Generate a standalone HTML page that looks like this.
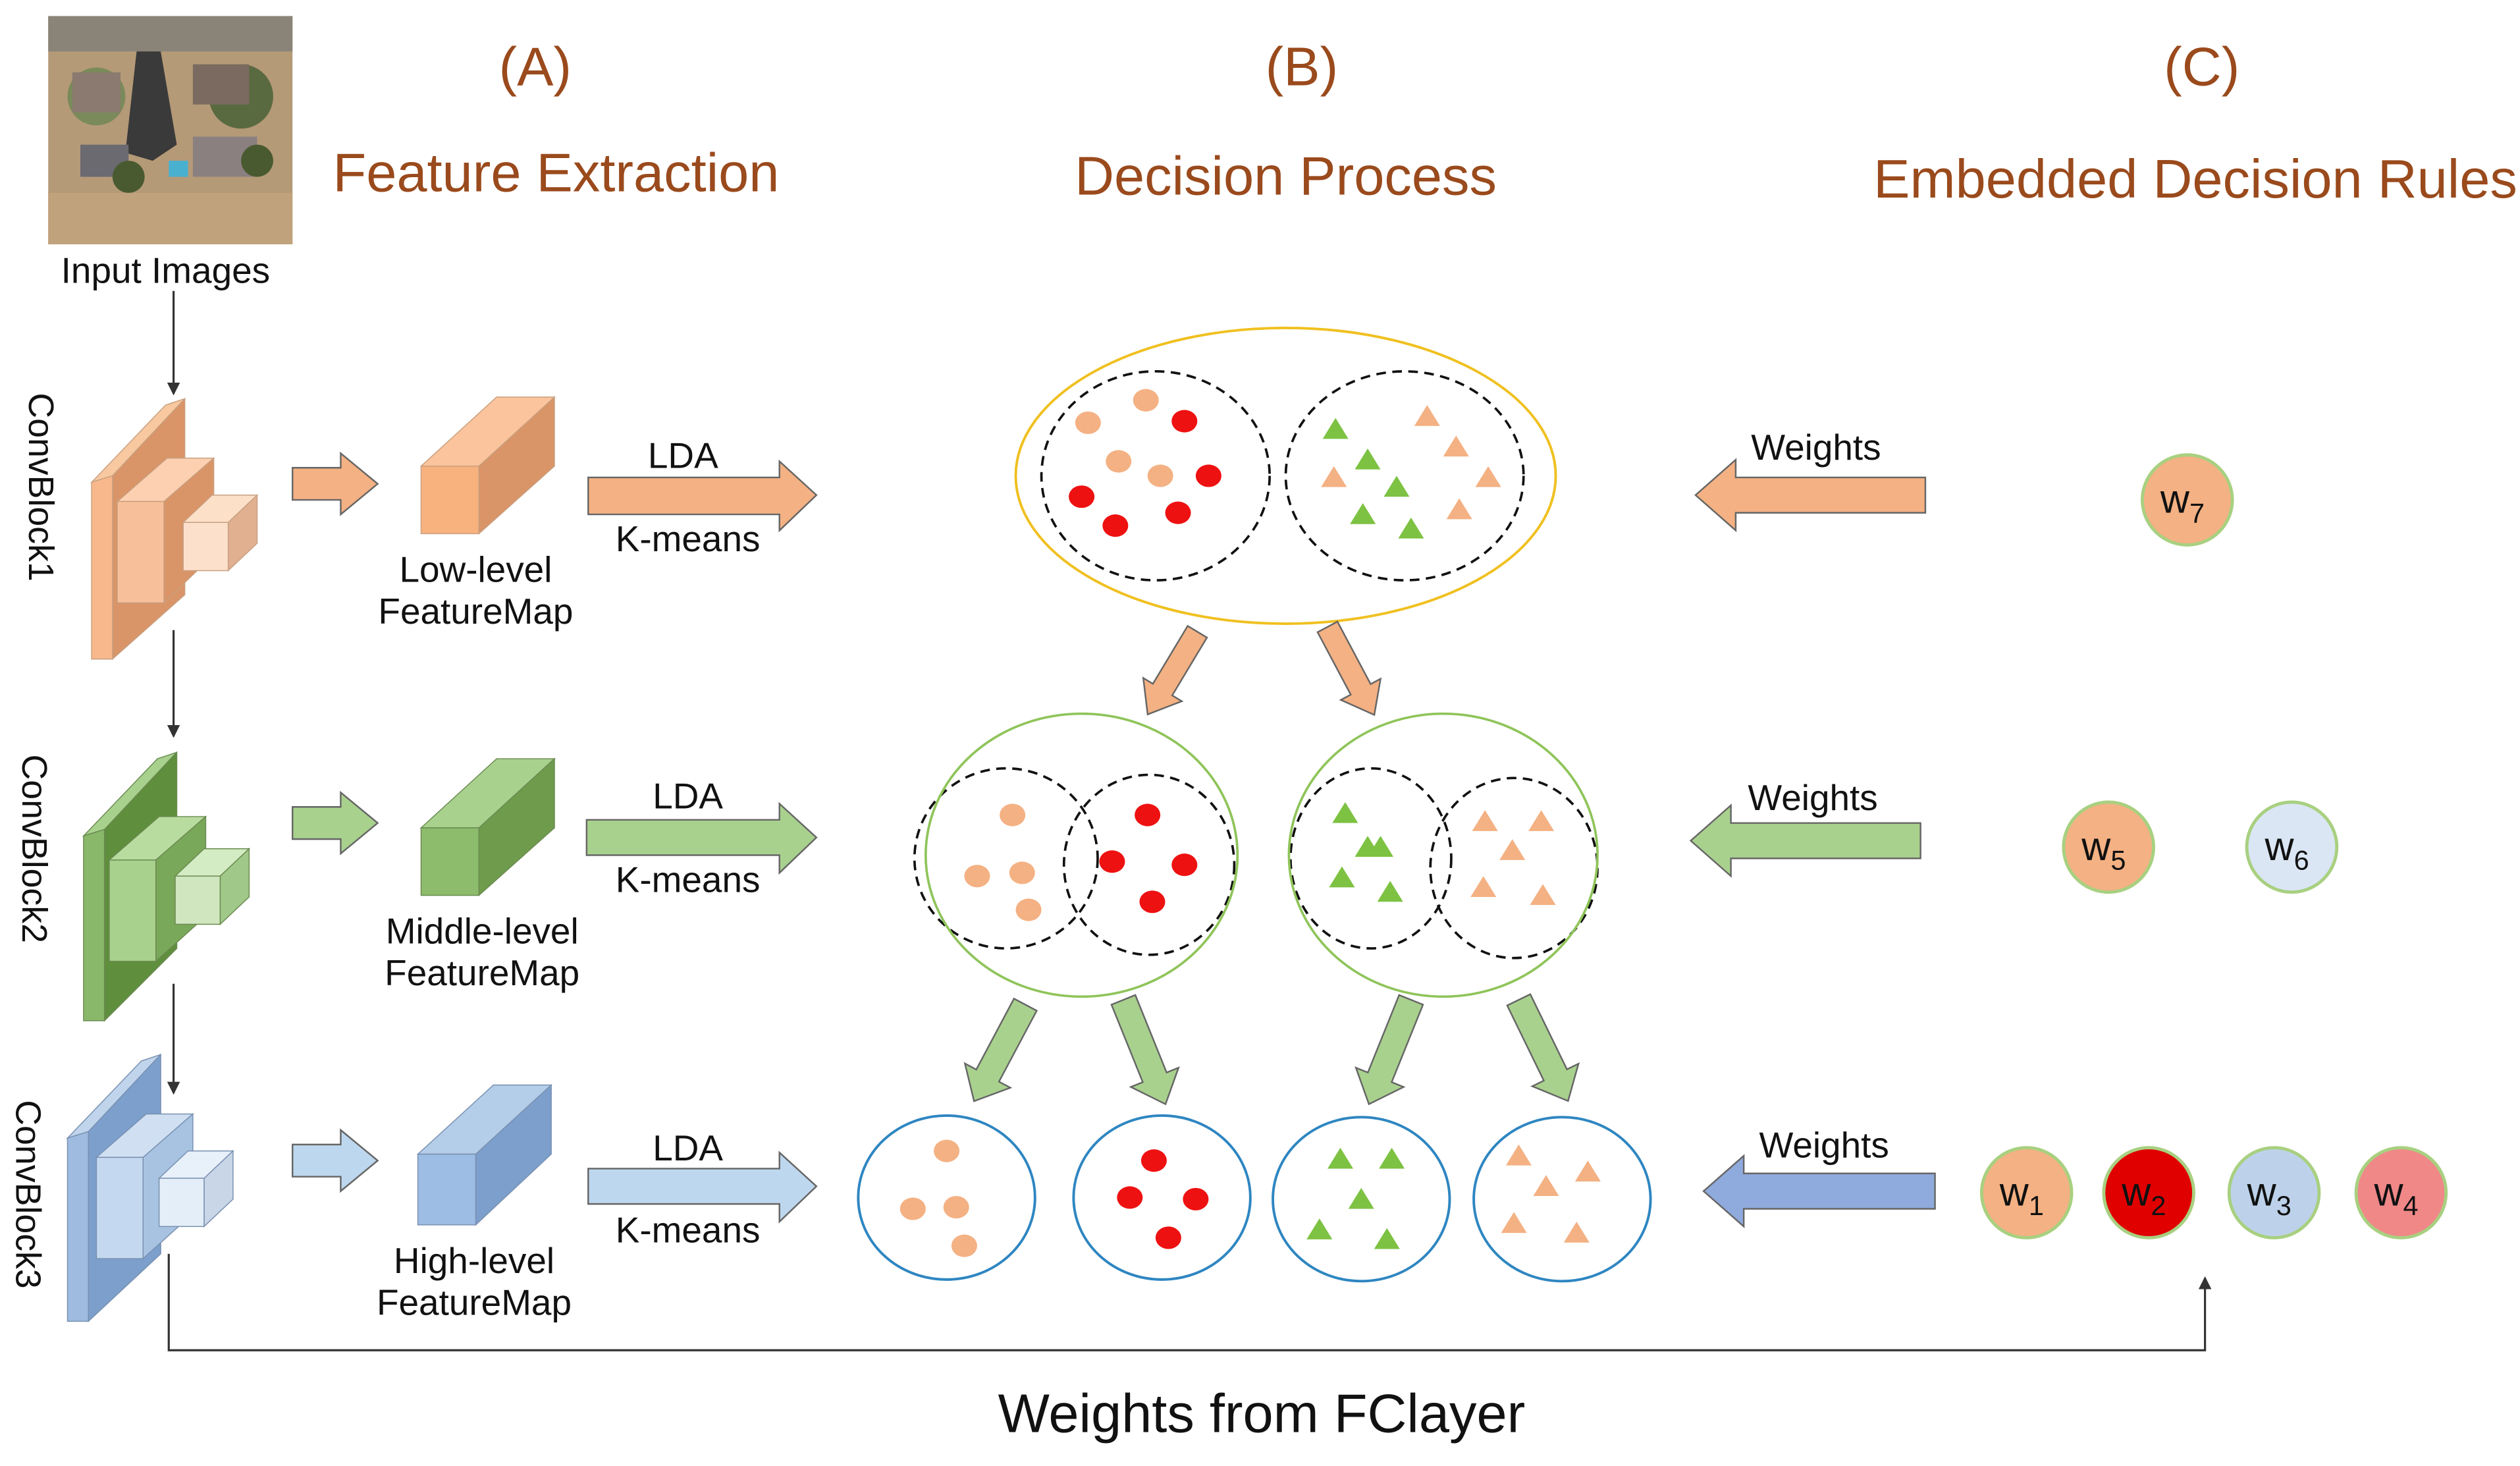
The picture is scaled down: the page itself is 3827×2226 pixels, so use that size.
<!DOCTYPE html>
<html><head><meta charset="utf-8"><style>
html,body{margin:0;padding:0;background:#fff;}
svg{display:block;}
text{font-family:"Liberation Sans",Arial,sans-serif;}
</style></head><body>
<svg width="3827" height="2226" viewBox="0 0 1568 912" preserveAspectRatio="none" xmlns="http://www.w3.org/2000/svg">
<defs>
<marker id="ah" markerWidth="8" markerHeight="8" refX="7" refY="4" orient="auto" markerUnits="userSpaceOnUse"><path d="M0,0 L8,4 L0,8 z" fill="#333"/></marker>
</defs>
<!-- input image -->
<rect x="30" y="10" width="152" height="142" fill="#b59a78"/>
<rect x="30" y="10" width="152" height="22" fill="#8a8478"/>
<path d="M85,32 L100,32 L110,90 L95,100 L78,95 Z" fill="#3a3a3a"/>
<circle cx="60" cy="60" r="18" fill="#7a8a5a"/><circle cx="150" cy="60" r="20" fill="#5a6a40"/>
<rect x="45" y="45" width="30" height="25" fill="#8a7a70"/><rect x="120" y="40" width="35" height="25" fill="#7a6a60"/>
<rect x="50" y="90" width="30" height="20" fill="#6a6a70"/><rect x="120" y="85" width="40" height="25" fill="#8a8080"/>
<rect x="105" y="100" width="12" height="10" fill="#4ab0d0"/>
<circle cx="80" cy="110" r="10" fill="#4a5a30"/><circle cx="160" cy="100" r="10" fill="#4a5a30"/>
<rect x="30" y="120" width="152" height="32" fill="#c0a27c"/>
<text x="103" y="176" font-size="22.5" text-anchor="middle" fill="#111">Input Images</text>
<!-- titles -->
<g fill="#9a4a1c" text-anchor="middle" font-size="34">
<text x="333" y="53">(A)</text><text x="346" y="119">Feature Extraction</text>
<text x="810" y="53">(B)</text><text x="800" y="121">Decision Process</text>
<text x="1370" y="53">(C)</text><text x="1366" y="123">Embedded Decision Rules</text>
</g>
<!-- vertical arrows -->
<g stroke="#333" stroke-width="1.3" fill="none">
<line x1="108" y1="181" x2="108" y2="245" marker-end="url(#ah)"/>
<line x1="108" y1="392" x2="108" y2="458" marker-end="url(#ah)"/>
<line x1="108" y1="612" x2="108" y2="680" marker-end="url(#ah)"/>
<polyline points="105,780 105,840 1372,840 1372,795" marker-end="url(#ah)"/>
</g>
<text x="785" y="891" font-size="34" text-anchor="middle" fill="#111">Weights from FClayer</text>
<!-- conv block labels -->
<g font-size="22" fill="#111" text-anchor="middle">
<text transform="translate(18,303) rotate(90)">ConvBlock1</text>
<text transform="translate(14,528) rotate(90)">ConvBlock2</text>
<text transform="translate(10,743) rotate(90)">ConvBlock3</text>
</g>
<!-- ConvBlock1 orange -->
<g stroke="#c8a080" stroke-width="0.6">
<polygon points="57,300 103,252 115,248 70,296" fill="#f8c8a0"/>
<polygon points="70,296 115,248 115,370 70,410" fill="#d99468"/>
<polygon points="57,300 70,296 70,410 57,410" fill="#f8b88b"/>
<polygon points="73,312 102,312 133,285 104,285" fill="#fcd0b0"/>
<polygon points="102,312 133,285 133,345 102,375" fill="#d99468"/>
<rect x="73" y="312" width="29" height="63" fill="#f8c09a"/>
<polygon points="114,325 142,325 160,308 132,308" fill="#fde0c8"/>
<polygon points="142,325 160,308 160,338 142,355" fill="#e0b090"/>
<rect x="114" y="325" width="28" height="30" fill="#fde0cc"/>
<polygon points="262,290 298,290 345,247 309,247" fill="#fbc49c"/>
<polygon points="298,290 345,247 345,290 298,332" fill="#d99468"/>
<rect x="262" y="290" width="36" height="42" fill="#f8b27e"/>
</g>
<!-- ConvBlock2 green -->
<g stroke="#6a8a50" stroke-width="0.6">
<polygon points="52,520 98,472 110,468 65,516" fill="#a9d18e"/>
<polygon points="65,516 110,468 110,590 65,635" fill="#5f8e3c"/>
<polygon points="52,520 65,516 65,635 52,635" fill="#8ab86a"/>
<polygon points="68,535 97,535 128,508 99,508" fill="#b8dca0"/>
<polygon points="97,535 128,508 128,570 97,598" fill="#7aa85a"/>
<rect x="68" y="535" width="29" height="63" fill="#a9d18e"/>
<polygon points="109,545 137,545 155,528 127,528" fill="#d4ecc4"/>
<polygon points="137,545 155,528 155,558 137,575" fill="#a0c888"/>
<rect x="109" y="545" width="28" height="30" fill="#cfe6be"/>
<polygon points="262,515 298,515 345,472 309,472" fill="#a9d18e"/>
<polygon points="298,515 345,472 345,515 298,557" fill="#6e9c4c"/>
<rect x="262" y="515" width="36" height="42" fill="#8cbc6c"/>
</g>
<!-- ConvBlock3 blue -->
<g stroke="#7890b0" stroke-width="0.6">
<polygon points="42,708 88,660 100,656 55,704" fill="#c0d4ec"/>
<polygon points="55,704 100,656 100,780 55,822" fill="#7c9fcc"/>
<polygon points="42,708 55,704 55,822 42,822" fill="#9fbce0"/>
<polygon points="60,720 89,720 120,693 91,693" fill="#d0e0f2"/>
<polygon points="89,720 120,693 120,755 89,783" fill="#a8c2e2"/>
<rect x="60" y="720" width="29" height="63" fill="#c4d8f0"/>
<polygon points="99,733 127,733 145,716 117,716" fill="#e8f0fa"/>
<polygon points="127,733 145,716 145,746 127,763" fill="#c8d6e8"/>
<rect x="99" y="733" width="28" height="30" fill="#e4eef8"/>
<polygon points="260,718 296,718 343,675 307,675" fill="#b4cde8"/>
<polygon points="296,718 343,675 343,718 296,762" fill="#7c9fcc"/>
<rect x="260" y="718" width="36" height="44" fill="#9dbde4"/>
</g>
<!-- right-pointing arrows -->
<g stroke="#666" stroke-width="1">
<polygon points="182,291 212,291 212,282 235,301 212,320 212,311 182,311" fill="#f4b183"/>
<polygon points="366,297 485,297 485,287 508,308 485,330 485,320 366,320" fill="#f4b183"/>
<polygon points="182,502 212,502 212,493 235,512 212,531 212,522 182,522" fill="#a9d18e"/>
<polygon points="365,510 485,510 485,500 508,521 485,543 485,532 365,532" fill="#a9d18e"/>
<polygon points="182,712 212,712 212,703 235,722 212,741 212,732 182,732" fill="#bdd7ee"/>
<polygon points="366,727 485,727 485,717 508,738 485,760 485,749 366,749" fill="#bdd7ee"/>
<polygon points="1198,297 1080,297 1080,286 1055,308 1080,330 1080,319 1198,319" fill="#f4b183"/>
<polygon points="1195,512 1077,512 1077,501 1052,523 1077,545 1077,534 1195,534" fill="#a9d18e"/>
<polygon points="1204,730 1085,730 1085,719 1060,741 1085,763 1085,752 1204,752" fill="#8faadc"/>
</g>
<g font-size="22.5" fill="#111" text-anchor="middle">
<text x="425" y="291">LDA</text><text x="428" y="343">K-means</text>
<text x="428" y="503">LDA</text><text x="428" y="555">K-means</text>
<text x="428" y="722">LDA</text><text x="428" y="773">K-means</text>
<text x="296" y="362">Low-level</text><text x="296" y="388">FeatureMap</text>
<text x="300" y="587">Middle-level</text><text x="300" y="613">FeatureMap</text>
<text x="295" y="792">High-level</text><text x="295" y="818">FeatureMap</text>
<text x="1130" y="286">Weights</text><text x="1128" y="504">Weights</text><text x="1135" y="720">Weights</text>
</g>
<!-- Decision tree -->
<ellipse cx="800" cy="296" rx="168" ry="92" fill="none" stroke="#f0c020" stroke-width="1.6"/>
<g fill="none" stroke="#111" stroke-width="1.5" stroke-dasharray="6,4">
<ellipse cx="719" cy="296" rx="71" ry="65"/><ellipse cx="874" cy="296" rx="74" ry="65"/>
<ellipse cx="626" cy="534" rx="57" ry="56"/><ellipse cx="715" cy="538" rx="53" ry="56"/>
<ellipse cx="853" cy="534" rx="50" ry="56"/><ellipse cx="942" cy="540" rx="52" ry="56"/>
</g>
<ellipse cx="673" cy="532" rx="97" ry="88" fill="none" stroke="#8fc45a" stroke-width="1.5"/>
<ellipse cx="898" cy="532" rx="96" ry="88" fill="none" stroke="#8fc45a" stroke-width="1.5"/>
<g fill="none" stroke="#2e86c1" stroke-width="1.6">
<ellipse cx="589" cy="745" rx="55" ry="51"/><ellipse cx="723" cy="745" rx="55" ry="51"/>
<ellipse cx="847" cy="746" rx="55" ry="51"/><ellipse cx="972" cy="746" rx="55" ry="51"/>
</g>
<g fill="#f4b183">
<ellipse cx="677" cy="263" rx="8" ry="7"/><ellipse cx="713" cy="249" rx="8" ry="7"/><ellipse cx="696" cy="287" rx="8" ry="7"/><ellipse cx="722" cy="296" rx="8" ry="7"/>
<ellipse cx="630" cy="507" rx="8" ry="7"/><ellipse cx="608" cy="545" rx="8" ry="7"/><ellipse cx="636" cy="543" rx="8" ry="7"/><ellipse cx="640" cy="566" rx="8" ry="7"/>
<ellipse cx="589" cy="716" rx="8" ry="7"/><ellipse cx="568" cy="752" rx="8" ry="7"/><ellipse cx="595" cy="751" rx="8" ry="7"/><ellipse cx="600" cy="775" rx="8" ry="7"/>
</g>
<g fill="#ee1111">
<ellipse cx="737" cy="262" rx="8" ry="7"/><ellipse cx="752" cy="296" rx="8" ry="7"/><ellipse cx="673" cy="309" rx="8" ry="7"/><ellipse cx="694" cy="327" rx="8" ry="7"/><ellipse cx="733" cy="319" rx="8" ry="7"/>
<ellipse cx="714" cy="507" rx="8" ry="7"/><ellipse cx="692" cy="536" rx="8" ry="7"/><ellipse cx="737" cy="538" rx="8" ry="7"/><ellipse cx="717" cy="561" rx="8" ry="7"/>
<ellipse cx="718" cy="722" rx="8" ry="7"/><ellipse cx="703" cy="745" rx="8" ry="7"/><ellipse cx="744" cy="746" rx="8" ry="7"/><ellipse cx="727" cy="770" rx="8" ry="7"/>
</g>
<g fill="#7dc242">
<path d="M831,260 l8,13 h-16z M851,279 l8,13 h-16z M869,296 l8,13 h-16z M848,313 l8,13 h-16z M878,322 l8,13 h-16z"/>
<path d="M837,499 l8,13 h-16z M851,520 l8,13 h-16z M859,520 l8,13 h-16z M835,539 l8,13 h-16z M865,548 l8,13 h-16z"/>
<path d="M834,714 l8,13 h-16z M866,714 l8,13 h-16z M847,739 l8,13 h-16z M821,758 l8,13 h-16z M863,764 l8,13 h-16z"/>
</g>
<g fill="#f4b183">
<path d="M888,252 l8,13 h-16z M906,271 l8,13 h-16z M830,290 l8,13 h-16z M926,290 l8,13 h-16z M908,310 l8,13 h-16z"/>
<path d="M924,504 l8,13 h-16z M959,504 l8,13 h-16z M941,522 l8,13 h-16z M923,545 l8,13 h-16z M960,550 l8,13 h-16z"/>
<path d="M945,712 l8,13 h-16z M988,722 l8,13 h-16z M962,731 l8,13 h-16z M942,754 l8,13 h-16z M981,760 l8,13 h-16z"/>
</g>
<g stroke="#666" stroke-width="1">
<g transform="translate(745,393) rotate(31)"><polygon points="-7,0 7,0 7,42 14,42 0,60 -14,42 -7,42" fill="#f4b183"/></g>
<g transform="translate(826,390) rotate(-28)"><polygon points="-7,0 7,0 7,44 14,44 0,62 -14,44 -7,44" fill="#f4b183"/></g>
<g transform="translate(638,625) rotate(28)"><polygon points="-8,0 8,0 8,50 16,50 0,68 -16,50 -8,50" fill="#a9d18e"/></g>
<g transform="translate(699,622) rotate(-22)"><polygon points="-8,0 8,0 8,52 16,52 0,70 -16,52 -8,52" fill="#a9d18e"/></g>
<g transform="translate(878,622) rotate(22)"><polygon points="-8,0 8,0 8,52 16,52 0,70 -16,52 -8,52" fill="#a9d18e"/></g>
<g transform="translate(945,622) rotate(-26)"><polygon points="-8,0 8,0 8,52 16,52 0,70 -16,52 -8,52" fill="#a9d18e"/></g>
</g>
<g stroke="#a8d080" stroke-width="2">
<circle cx="1361" cy="311" r="28" fill="#f4b183"/>
<circle cx="1312" cy="527" r="28" fill="#f4b183"/>
<circle cx="1426" cy="527" r="28" fill="#dae6f4"/>
<circle cx="1261" cy="742" r="28" fill="#f4b183"/>
<circle cx="1337" cy="742" r="28" fill="#e00000"/>
<circle cx="1415" cy="742" r="28" fill="#bdd2ea"/>
<circle cx="1494" cy="742" r="28" fill="#f08888"/>
</g>
<g font-size="25" fill="#111" text-anchor="middle">
<text x="1358" y="319">w<tspan font-size="17" dy="6">7</tspan></text>
<text x="1309" y="535">w<tspan font-size="17" dy="6">5</tspan></text>
<text x="1423" y="535">w<tspan font-size="17" dy="6">6</tspan></text>
<text x="1258" y="750">w<tspan font-size="17" dy="6">1</tspan></text>
<text x="1334" y="750">w<tspan font-size="17" dy="6">2</tspan></text>
<text x="1412" y="750">w<tspan font-size="17" dy="6">3</tspan></text>
<text x="1491" y="750">w<tspan font-size="17" dy="6">4</tspan></text>
</g>
</svg>
</body></html>
